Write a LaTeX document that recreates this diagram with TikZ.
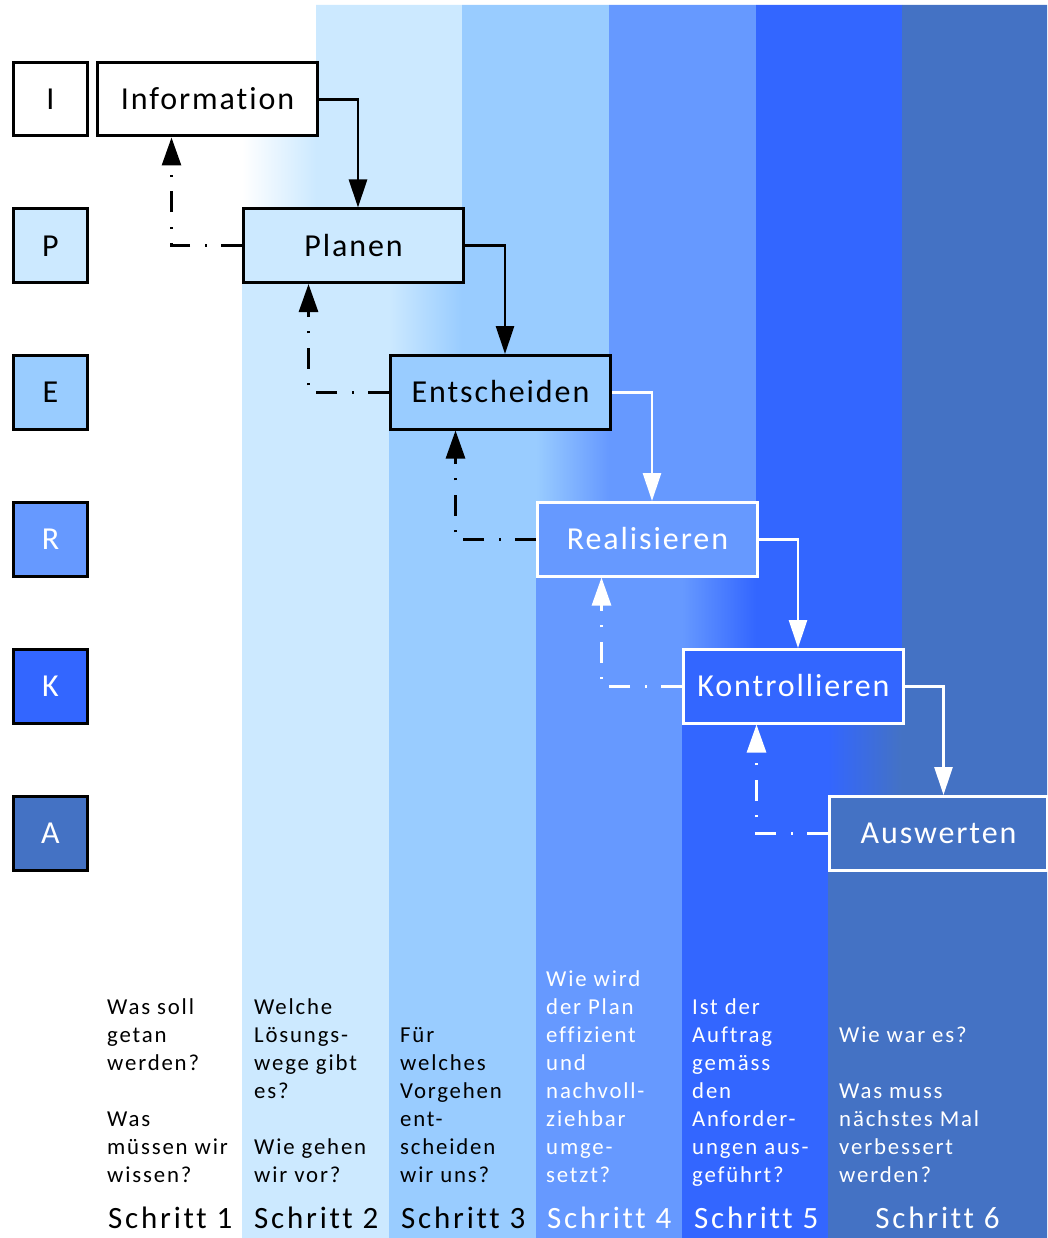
\documentclass[tikz,border=0pt]{standalone}
\usepackage{fontspec}
\setmainfont{Carlito}[Ligatures=NoCommon]
\newfontfamily\boxfont{Carlito}[LetterSpace=6,Ligatures=NoCommon]
\newfontfamily\qfont{Carlito}[LetterSpace=8,Ligatures=NoCommon]
\newfontfamily\stepfont{Carlito}[LetterSpace=9,Ligatures=NoCommon]
\usetikzlibrary{arrows.meta,calc}
\definecolor{cB}{HTML}{CCE9FF}
\definecolor{cC}{HTML}{99CCFF}
\definecolor{cD}{HTML}{6699FF}
\definecolor{cE}{HTML}{3366FF}
\definecolor{cF}{HTML}{4472C4}
\begin{document}
\begin{tikzpicture}[x=1pt,y=-1pt,
  box/.style={draw, line width=3pt, minimum width=220pt, minimum height=73.5pt,
    anchor=north west, inner sep=0pt, font=\boxfont\fontsize{32}{38}\selectfont,
    text height=20.6pt, text depth=0pt},
  lbox/.style={box, minimum width=74pt},
  fwd/.style={line width=2.8pt, -{Triangle[length=28pt,width=18pt]}},
  fb/.style={line width=2.8pt, dash pattern=on 21pt off 14.5pt on 2pt off 14.5pt,
    -{Triangle[length=28pt,width=19pt]}},
  qtext/.style={anchor=base west, inner sep=0pt, font=\qfont\fontsize{22.8}{28}\selectfont},
  steplabel/.style={anchor=base west, inner sep=0pt, font=\stepfont\fontsize{31}{36}\selectfont}
]
\useasboundingbox (0,0) rectangle (1047,1238);
\fill[white] (0,0) rectangle (1047,1238);
% background bands
\fill[cB] (316,5) -- (462,5) -- (462,1238) -- (242,1238) -- (242,134.5) -- (316,134.5) -- cycle;
\shade[left color=white, right color=cB] (242,134.5) rectangle (316,207);
\fill[cC] (462,5) -- (609,5) -- (609,1238) -- (389,1238) -- (389,281) -- (462,281) -- cycle;
\shade[left color=cB, right color=cC] (389,281) rectangle (462,354);
\fill[cD] (609,5) -- (756,5) -- (756,1238) -- (536,1238) -- (536,428) -- (609,428) -- cycle;
\shade[left color=cC, right color=cD] (536,428) rectangle (609,501);
\fill[cE] (756,5) -- (902,5) -- (902,1238) -- (682,1238) -- (682,575) -- (756,575) -- cycle;
\shade[left color=cD, right color=cE] (682,575) rectangle (756,648);
\fill[cF] (902,5) -- (1047,5) -- (1047,1238) -- (828,1238) -- (828,722) -- (902,722) -- cycle;
\shade[left color=cE, right color=cF] (828,722) rectangle (902,795);

% left letter boxes
\node[lbox, fill=white] (lI) at (12,61) {I};
\node[lbox, fill=cB] (lP) at (12,207.5) {P};
\node[lbox, fill=cC] (lE) at (12,354) {E};
\node[lbox, fill=cD, text=white] (lR) at (12,501) {R};
\node[lbox, fill=cE, text=white] (lK) at (12,648) {K};
\node[lbox, fill=cF, text=white] (lA) at (12,795) {A};

% main boxes
\node[box, fill=white] (info) at (96,61) {Information};
\node[box, fill=cB] (plan) at (242,207.5) {Planen};
\node[box, fill=cC] (ent) at (389,354) {Entscheiden};
\node[box, fill=cD, draw=white, text=white] (real) at (536,501) {Realisieren};
\node[box, fill=cE, draw=white, text=white] (kont) at (682,648) {Kontrollieren};
\node[box, fill=cF, draw=white, text=white, minimum width=218pt] (ausw) at (828,795) {Auswerten};

% forward arrows
\draw[fwd, black] (info.east) -| ([xshift=4.5pt]plan.north);
\draw[fwd, black] (plan.east) -| ([xshift=4.5pt]ent.north);
\draw[fwd, white] (ent.east) -| ([xshift=4.5pt]real.north);
\draw[fwd, white] (real.east) -| ([xshift=4.5pt]kont.north);
\draw[fwd, white] (kont.east) -| ([xshift=5pt]ausw.north);

% feedback arrows
\draw[fb, black] (plan.west) -| ([xshift=-36pt]info.south);
\draw[fb, black] (ent.west) -| ([xshift=-45pt]plan.south);
\draw[fb, black] (real.west) -| ([xshift=-45pt]ent.south);
\draw[fb, white] (kont.west) -| ([xshift=-46pt]real.south);
\draw[fb, white] (ausw.west) -| ([xshift=-37pt]kont.south);

% questions
\node[qtext] (q1) at (107,1014) {\vtop{\hbox{Was soll}\hbox{getan}\hbox{werden?}\hbox{}\hbox{Was}\hbox{müssen wir}\hbox{wissen?}}};
\node[qtext] (q2) at (254,1014) {\vtop{\hbox{Welche}\hbox{Lösungs-}\hbox{wege gibt}\hbox{es?}\hbox{}\hbox{Wie gehen}\hbox{wir vor?}}};
\node[qtext] (q3) at (400,1042) {\vtop{\hbox{Für}\hbox{welches}\hbox{Vorgehen}\hbox{ent-}\hbox{scheiden}\hbox{wir uns?}}};
\node[qtext, text=white] (q4) at (546,986) {\vtop{\hbox{Wie wird}\hbox{der Plan}\hbox{effizient}\hbox{und}\hbox{nachvoll-}\hbox{ziehbar}\hbox{umge-}\hbox{setzt?}}};
\node[qtext, text=white] (q5) at (692,1014) {\vtop{\hbox{Ist der}\hbox{Auftrag}\hbox{gemäss}\hbox{den}\hbox{Anforder-}\hbox{ungen aus-}\hbox{geführt?}}};
\node[qtext, text=white] (q6) at (839,1042) {\vtop{\hbox{Wie war es?}\hbox{}\hbox{Was muss}\hbox{nächstes Mal}\hbox{verbessert}\hbox{werden?}}};

% step labels
\node[steplabel] (s1) at (108,1228) {Schritt 1};
\node[steplabel] (s2) at (254,1228) {Schritt 2};
\node[steplabel] (s3) at (401,1228) {Schritt 3};
\node[steplabel, text=white] (s4) at (547,1228) {Schritt 4};
\node[steplabel, text=white] (s5) at (694,1228) {Schritt 5};
\node[steplabel, text=white, anchor=base] (s6) at (937.5,1228) {Schritt 6};
\end{tikzpicture}
\end{document}
